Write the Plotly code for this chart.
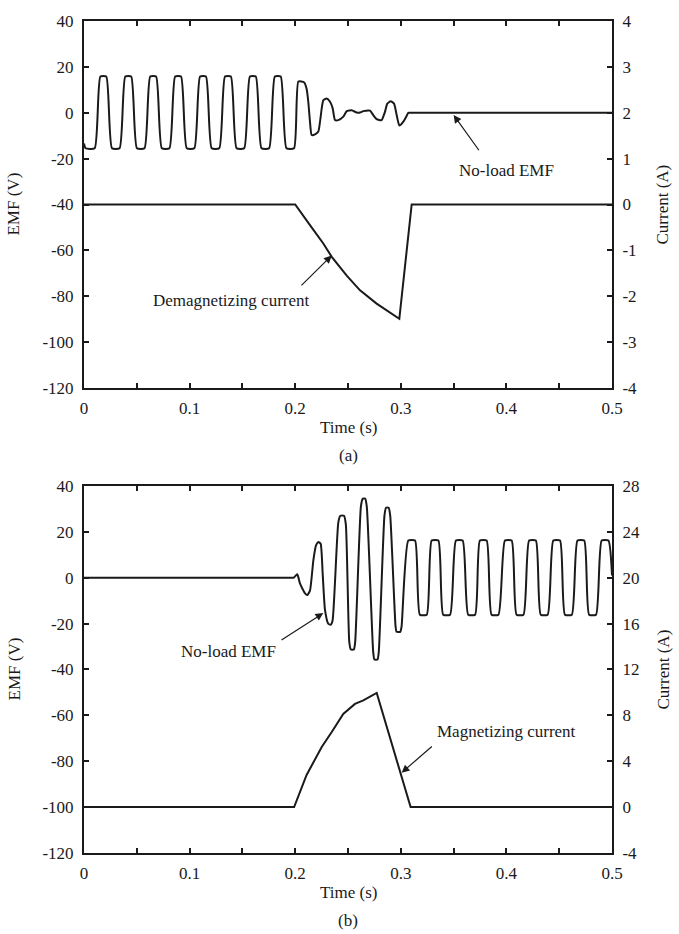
import plotly.graph_objects as go

# ---------------- (a) demagnetizing test ----------------
t_emf_a = [0, 0.0015, 0.0101, 0.0155, 0.0211,
           0.0265, 0.0337, 0.0391, 0.0447,
           0.0501, 0.0573, 0.0627, 0.0683,
           0.0737, 0.0809, 0.0863, 0.0919,
           0.0973, 0.1045, 0.1099, 0.1155,
           0.1209, 0.1281, 0.1335, 0.1391,
           0.1445, 0.1517, 0.1571, 0.1627,
           0.1681, 0.1753, 0.1807, 0.1863,
           0.1917, 0.1989, 0.2030, 0.2085,
           0.2108, 0.2124, 0.2140, 0.2156, 0.2188, 0.2219, 0.2251, 0.2266,
           0.2298, 0.2330, 0.2355, 0.2377, 0.2408, 0.2456, 0.2488, 0.2535,
           0.2582, 0.2614, 0.2645, 0.2708, 0.2739, 0.2771, 0.2818, 0.2850,
           0.2872, 0.2904, 0.2936, 0.2961, 0.2986, 0.3024, 0.3056, 0.3071,
           0.3090, 0.5]
emf_a = [-13.4, -15.5, -15.5, 15.8, 15.8,
         -15.5, -15.5, 15.8, 15.8,
         -15.5, -15.5, 15.8, 15.8,
         -15.5, -15.5, 15.8, 15.8,
         -15.5, -15.5, 15.8, 15.8,
         -15.5, -15.5, 15.8, 15.8,
         -15.5, -15.5, 15.8, 15.8,
         -15.5, -15.5, 15.8, 15.8,
         -15.5, -15.5, 13.6, 13.2,
         10.5, 4.8, -3.9, -9.7, -9.4, -8.2, 1.9, 5.4,
         6.2, 4.8, 1.9, -3.2, -3.2, -1.7, 0.7, 1.1,
         0.1, 0.1, 0.7, 0.9, -1.0, -2.8, -3.2, 0.4,
         4.0, 5.0, 4.0, -1.0, -5.6, -3.9, -1.3, 0.0,
         0.0, 0.0]

t_cur_a = [0, 0.2000, 0.2140, 0.2266, 0.2346, 0.2488, 0.2614, 0.2771, 0.2986, 0.3103, 0.5]
cur_a = [0, 0, -0.45, -0.85, -1.14, -1.55, -1.87, -2.16, -2.49, 0, 0]

# ---------------- (b) magnetizing test ----------------
t_emf_b = [0, 0.1960, 0.1985, 0.2020, 0.2045, 0.2093, 0.2115, 0.2140, 0.2172, 0.2197,
           0.2219, 0.2241, 0.2260, 0.2282, 0.2313, 0.2335, 0.2354,
           0.2408, 0.2428, 0.2462, 0.2480, 0.2512, 0.2527, 0.2555, 0.2568,
           0.2622, 0.2640, 0.2662, 0.2678, 0.2738, 0.2750, 0.2780, 0.2792,
           0.2845, 0.2860, 0.2885, 0.2900, 0.2950, 0.2960, 0.2995, 0.3008,
           0.3071, 0.3135, 0.3180, 0.3246, 0.3292, 0.3356, 0.3401, 0.3467,
           0.3522, 0.3586, 0.3638, 0.3704, 0.3749, 0.3813, 0.3859, 0.3925,
           0.3986, 0.4050, 0.4096, 0.4162, 0.4215, 0.4279, 0.4325, 0.4391,
           0.4444, 0.4508, 0.4554, 0.4620, 0.4673, 0.4737, 0.4783, 0.4849,
           0.4902, 0.4966, 0.5000]
emf_b = [0, 0, 0, 1.5, -2.5, -6.8, -7.5, -5.6, 7.6, 14.1,
         15.6, 14.8, 1.9, -14.0, -20.0, -20.5, -18.6,
         24.0, 27.0, 27.0, 23.0, -28.0, -31.3, -31.3, -28.0,
         31.0, 34.5, 34.5, 31.0, -32.0, -35.6, -35.6, -32.0,
         27.0, 30.5, 30.5, 27.0, -21.0, -23.6, -23.6, -21.0,
         16.2, 16.2, -16.1, -16.1, 16.2, 16.2, -16.1, -16.1,
         16.2, 16.2, -16.1, -16.1, 16.2, 16.2, -16.1, -16.1,
         16.2, 16.2, -16.1, -16.1, 16.2, 16.2, -16.1, -16.1,
         16.2, 16.2, -16.1, -16.1, 16.2, 16.2, -16.1, -16.1,
         16.2, 16.2, 1.0]

t_cur_b = [0, 0.1990, 0.2108, 0.2251, 0.2346, 0.2455, 0.2566, 0.2645, 0.2772, 0.3093, 0.5]
cur_b = [0, 0, 2.8, 5.25, 6.55, 8.13, 9.0, 9.3, 9.95, 0, 0]

# ---------------- ticks ----------------
time_ticks = [0, 0.05, 0.1, 0.15, 0.2, 0.25, 0.3, 0.35, 0.4, 0.45, 0.5]
time_labels = ["0", "", "0.1", "", "0.2", "", "0.3", "", "0.4", "", "0.5"]
emf_ticks = [40, 20, 0, -20, -40, -60, -80, -100, -120]
emf_labels = ["40", "20", "0", "-20", "-40", "-60", "-80", "-100", "-120"]
cur_ticks_a = [4, 3, 2, 1, 0, -1, -2, -3, -4]
cur_labels_a = ["4", "3", "2", "1", "0", "-1", "-2", "-3", "-4"]
cur_ticks_b = [28, 24, 20, 16, 12, 8, 4, 0, -4]
cur_labels_b = ["28", "24", "20", "16", "12", "8", "4", "0", "-4"]

INK = "#1a1a1a"
FONT = "Liberation Serif"
W, H = 679, 934
ML, MR, MT, MB = 84, 67, 12, 81
PH = H - MT - MB
PW = W - ML - MR


def py(pix):
    """pixel row -> paper y"""
    return (H - MB - pix) / PH


def px(pix):
    """pixel column -> paper x"""
    return (pix - ML) / PW


wave = dict(color=INK, width=2, shape="spline", smoothing=0.5)
line = dict(color=INK, width=2)
fig = go.Figure()
fig.add_trace(go.Scatter(x=t_emf_a, y=emf_a, mode="lines", line=wave, xaxis="x", yaxis="y"))
fig.add_trace(go.Scatter(x=t_cur_a, y=cur_a, mode="lines", line=line, xaxis="x", yaxis="y3"))
fig.add_trace(go.Scatter(x=t_emf_b, y=emf_b, mode="lines", line=wave, xaxis="x2", yaxis="y2"))
fig.add_trace(go.Scatter(x=t_cur_b, y=cur_b, mode="lines", line=line, xaxis="x2", yaxis="y4"))

tick_font = dict(family=FONT, size=17, color=INK)
xcommon = dict(range=[0, 0.5], tickvals=time_ticks, ticktext=time_labels,
               ticks="inside", ticklen=5, tickwidth=1.5, tickcolor=INK,
               showline=True, linewidth=2, linecolor=INK, mirror="ticks",
               showgrid=False, zeroline=False, tickfont=tick_font,
               ticklabelstandoff=4)
ycommon = dict(range=[-120, 40], tickvals=emf_ticks, ticktext=emf_labels,
               ticks="inside", ticklen=5, tickwidth=1.5, tickcolor=INK,
               showline=True, linewidth=2, linecolor=INK,
               showgrid=False, zeroline=False, tickfont=tick_font,
               ticklabelstandoff=5)
top_dom = [py(383), 1.0]
bot_dom = [0.0, py(482)]

fig.update_layout(
    width=W, height=H,
    margin=dict(l=ML, r=MR, t=MT, b=MB),
    paper_bgcolor="white", plot_bgcolor="white",
    showlegend=False,
    xaxis=dict(xcommon, anchor="y", domain=[0, 1]),
    yaxis=dict(ycommon, anchor="x", domain=top_dom),
    yaxis3=dict(ycommon, range=[-4, 4], tickvals=cur_ticks_a, ticktext=cur_labels_a,
                overlaying="y", side="right", anchor="x"),
    xaxis2=dict(xcommon, anchor="y2", domain=[0, 1]),
    yaxis2=dict(ycommon, anchor="x2", domain=bot_dom),
    yaxis4=dict(ycommon, range=[-4, 28], tickvals=cur_ticks_b, ticktext=cur_labels_b,
                overlaying="y2", side="right", anchor="x2"),
)

label_font = dict(family=FONT, size=17, color=INK)
anns = []
for mid, tag, xlab in ((197.5, "(a)", 383), (667.5, "(b)", 853)):
    anns.append(dict(text="EMF (V)", x=px(14), y=py(mid), xref="paper", yref="paper",
                     xanchor="center", yanchor="middle",
                     textangle=-90, showarrow=False, font=label_font))
    anns.append(dict(text="Current (A)", x=px(663), y=py(mid), xref="paper", yref="paper",
                     xanchor="center", yanchor="middle",
                     textangle=-90, showarrow=False, font=label_font))
    anns.append(dict(text="Time (s)", x=0.5, y=py(xlab + 40), xref="paper", yref="paper",
                     xanchor="center", yanchor="middle", showarrow=False, font=label_font))
    anns.append(dict(text=tag, x=0.5, y=py(xlab + 68), xref="paper", yref="paper",
                     xanchor="center", yanchor="middle", showarrow=False, font=label_font))

# callouts: text labels
callouts = [
    ("No-load EMF", "x", "y", 0.40, -25),
    ("Demagnetizing current", "x", "y", 0.14, -82),
    ("No-load EMF", "x2", "y2", 0.137, -32),
    ("Magnetizing current", "x2", "y2", 0.40, -67),
]
for text, xr, yr, xv, yv in callouts:
    anns.append(dict(text=text, x=xv, y=yv, xref=xr, yref=yr, showarrow=False,
                     font=label_font))

# callouts: arrows (head, tail) in data units
arrows = [
    ("x", "y", 0.350, -1, 0.375, -17),
    ("x", "y", 0.2346, -62.2, 0.2045, -75.9),
    ("x2", "y2", 0.2266, -15.4, 0.1856, -27.6),
    ("x2", "y2", 0.3008, -85, 0.3308, -73),
]
for xr, yr, hx, hy, tx, ty in arrows:
    anns.append(dict(text="", x=hx, y=hy, ax=tx, ay=ty, xref=xr, yref=yr,
                     axref=xr, ayref=yr, showarrow=True, arrowhead=2,
                     arrowsize=1.3, arrowwidth=1.2, arrowcolor=INK))

fig.update_layout(annotations=anns)
fig.write_html("out.html")
